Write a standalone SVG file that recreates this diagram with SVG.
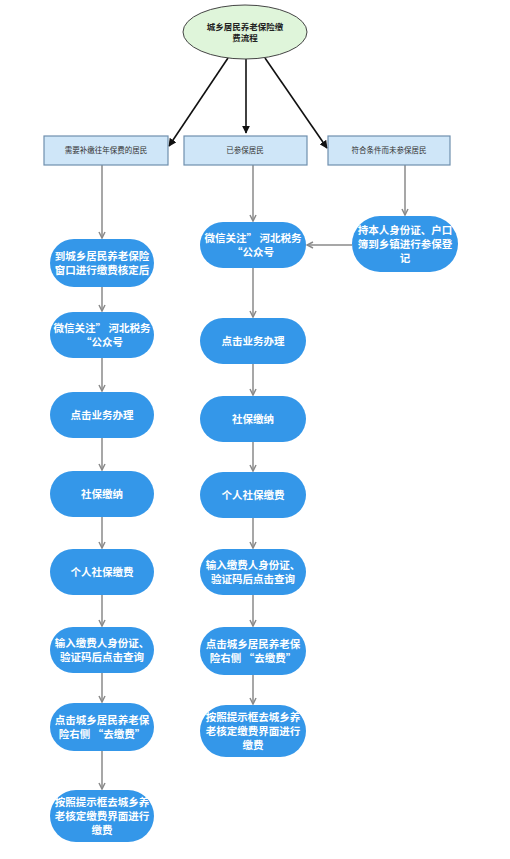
<svg xmlns="http://www.w3.org/2000/svg" width="510" height="859" viewBox="0 0 510 859">
<defs>
<style>
.st{fill:#3497e9;}
.tw{font-family:"Noto Sans CJK SC","Noto Sans",sans-serif;font-size:10.5px;font-weight:bold;fill:#ffffff;text-anchor:middle;}
.bx{fill:#cfe6f8;stroke:#6f8fae;stroke-width:1.2;}
.tb{font-family:"Noto Sans CJK SC","Noto Sans",sans-serif;font-size:7.5px;fill:#333333;text-anchor:middle;}
.te{font-family:"Noto Sans CJK SC","Noto Sans",sans-serif;font-size:8.5px;font-weight:bold;fill:#222222;text-anchor:middle;}
.blk{stroke:#111111;stroke-width:1.6;fill:none;marker-end:url(#ab);}
.gry{stroke:#8a8a8a;stroke-width:1.5;fill:none;marker-end:url(#ag);}
</style>
<marker id="ab" viewBox="0 0 10 10" refX="9" refY="5" markerWidth="5" markerHeight="5" orient="auto">
<path d="M0,0 L10,5 L0,10 Z" fill="#111111"/>
</marker>
<marker id="ag" viewBox="0 0 10 10" refX="9" refY="5" markerWidth="5" markerHeight="5" orient="auto">
<path d="M1,1 L9,5 L1,9" fill="none" stroke="#8a8a8a" stroke-width="2"/>
</marker>
</defs>
<rect width="510" height="859" fill="#ffffff"/>

<g id="connectors">
<line class="blk" x1="228" y1="58" x2="169" y2="146"/>
<line class="blk" x1="246" y1="59" x2="246" y2="133"/>
<line class="blk" x1="265" y1="58" x2="327" y2="148"/>
<line class="gry" x1="102" y1="165" x2="102" y2="238"/>
<line class="gry" x1="102" y1="287" x2="102" y2="311"/>
<line class="gry" x1="102" y1="358" x2="102" y2="391"/>
<line class="gry" x1="102" y1="438" x2="102" y2="470"/>
<line class="gry" x1="102" y1="517" x2="102" y2="548"/>
<line class="gry" x1="102" y1="595" x2="102" y2="626"/>
<line class="gry" x1="102" y1="673" x2="102" y2="702"/>
<line class="gry" x1="102" y1="751" x2="102" y2="789"/>
<line class="gry" x1="253" y1="165" x2="253" y2="221"/>
<line class="gry" x1="253" y1="268" x2="253" y2="317"/>
<line class="gry" x1="253" y1="364" x2="253" y2="395"/>
<line class="gry" x1="253" y1="442" x2="253" y2="471"/>
<line class="gry" x1="253" y1="518" x2="253" y2="548"/>
<line class="gry" x1="253" y1="595" x2="253" y2="626"/>
<line class="gry" x1="253" y1="675" x2="253" y2="704"/>
<line class="gry" x1="405" y1="165" x2="405" y2="215"/>
<line class="gry" x1="352" y1="245" x2="307" y2="245"/>
</g>

<g id="start">
<ellipse cx="245" cy="32" rx="62" ry="27" fill="#dff5da" stroke="#444444" stroke-width="1"/>
<text class="te" x="245" y="30">城乡居民养老保险缴</text>
<text class="te" x="245" y="41">费流程</text>
</g>

<g id="box1">
<rect class="bx" x="44" y="136" width="124" height="29"/>
<text class="tb" x="106" y="153">需要补缴往年保费的居民</text>
</g>
<g id="box2">
<rect class="bx" x="184" y="136" width="123" height="29"/>
<text class="tb" x="245" y="153">已参保居民</text>
</g>
<g id="box3">
<rect class="bx" x="328" y="136" width="122" height="29"/>
<text class="tb" x="389" y="153">符合条件而未参保居民</text>
</g>

<g id="L1">
<rect class="st" x="50" y="239" width="104" height="48" rx="24"/>
<text class="tw" x="102" y="260">到城乡居民养老保险</text>
<text class="tw" x="102" y="274">窗口进行缴费核定后</text>
</g>
<g id="L2">
<rect class="st" x="50" y="312" width="104" height="46" rx="23"/>
<text class="tw" x="102" y="332">微信关注” 河北税务</text>
<text class="tw" x="102" y="346">“公众号</text>
</g>
<g id="L3">
<rect class="st" x="50" y="392" width="104" height="46" rx="23"/>
<text class="tw" x="102" y="419">点击业务办理</text>
</g>
<g id="L4">
<rect class="st" x="50" y="471" width="104" height="46" rx="23"/>
<text class="tw" x="102" y="498">社保缴纳</text>
</g>
<g id="L5">
<rect class="st" x="50" y="549" width="104" height="46" rx="23"/>
<text class="tw" x="102" y="576">个人社保缴费</text>
</g>
<g id="L6">
<rect class="st" x="50" y="627" width="104" height="46" rx="23"/>
<text class="tw" x="102" y="647">输入缴费人身份证、</text>
<text class="tw" x="102" y="661">验证码后点击查询</text>
</g>
<g id="L7">
<rect class="st" x="50" y="703" width="104" height="48" rx="24"/>
<text class="tw" x="102" y="724">点击城乡居民养老保</text>
<text class="tw" x="102" y="738">险右侧 “去缴费”</text>
</g>
<g id="L8">
<rect class="st" x="50" y="790" width="104" height="52" rx="26"/>
<text class="tw" x="102" y="806">按照提示框去城乡养</text>
<text class="tw" x="102" y="820">老核定缴费界面进行</text>
<text class="tw" x="102" y="834">缴费</text>
</g>

<g id="M1">
<rect class="st" x="200" y="222" width="106" height="46" rx="23"/>
<text class="tw" x="253" y="242">微信关注” 河北税务</text>
<text class="tw" x="253" y="256">“公众号</text>
</g>
<g id="M2">
<rect class="st" x="200" y="318" width="106" height="46" rx="23"/>
<text class="tw" x="253" y="345">点击业务办理</text>
</g>
<g id="M3">
<rect class="st" x="200" y="396" width="106" height="46" rx="23"/>
<text class="tw" x="253" y="423">社保缴纳</text>
</g>
<g id="M4">
<rect class="st" x="200" y="472" width="106" height="46" rx="23"/>
<text class="tw" x="253" y="499">个人社保缴费</text>
</g>
<g id="M5">
<rect class="st" x="200" y="549" width="106" height="46" rx="23"/>
<text class="tw" x="253" y="569">输入缴费人身份证、</text>
<text class="tw" x="253" y="583">验证码后点击查询</text>
</g>
<g id="M6">
<rect class="st" x="200" y="627" width="106" height="48" rx="24"/>
<text class="tw" x="253" y="648">点击城乡居民养老保</text>
<text class="tw" x="253" y="662">险右侧 “去缴费”</text>
</g>
<g id="M7">
<rect class="st" x="200" y="705" width="106" height="52" rx="26"/>
<text class="tw" x="253" y="721">按照提示框去城乡养</text>
<text class="tw" x="253" y="735">老核定缴费界面进行</text>
<text class="tw" x="253" y="749">缴费</text>
</g>

<g id="R1">
<rect class="st" x="352" y="216" width="106" height="56" rx="28"/>
<text class="tw" x="405" y="234">持本人身份证、户口</text>
<text class="tw" x="405" y="248">簿到乡镇进行参保登</text>
<text class="tw" x="405" y="262">记</text>
</g>
</svg>
